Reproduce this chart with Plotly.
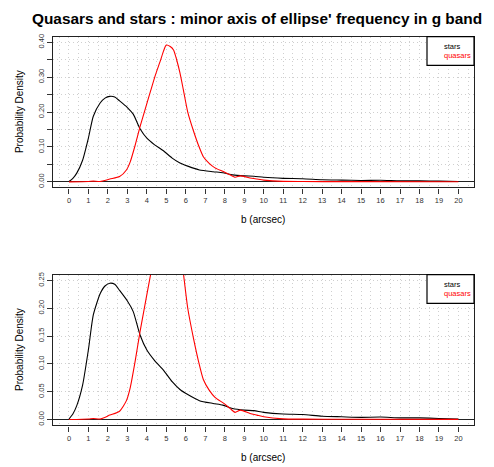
import plotly.graph_objects as go

# ---- data ----
stars_x = [0.0, 0.2, 0.4, 0.7, 1.0, 1.25, 1.6, 1.85, 2.1, 2.35, 2.6, 3.0, 3.3, 3.65, 4.0, 4.4,
           4.85, 5.3, 5.7, 6.1, 6.7, 7.4, 7.9, 8.4, 9.0, 9.5, 10.0, 11.0, 12.0, 13.0, 14.0,
           15.0, 16.0, 17.0, 18.0, 19.0, 20.0]
stars_y = [0.001, 0.010, 0.025, 0.062, 0.126, 0.188, 0.226, 0.240, 0.245, 0.243, 0.232, 0.213,
           0.194, 0.152, 0.125, 0.106, 0.089, 0.068, 0.054, 0.045, 0.034, 0.029, 0.026, 0.020,
           0.017, 0.016, 0.013, 0.010, 0.009, 0.006, 0.005, 0.004, 0.0045, 0.003, 0.003, 0.002,
           0.001]

quasars_x = [0.0, 1.0, 1.25, 1.6, 2.1, 2.6, 2.95, 3.15, 3.4, 3.65, 3.95, 4.2, 4.45, 4.7, 4.85,
             5.0, 5.2, 5.37, 5.53, 5.7, 5.87, 6.1, 6.4, 6.65, 6.9, 7.2, 7.5, 7.95, 8.27, 8.53,
             8.8, 9.3, 9.65, 10.0, 11.0, 12.0, 14.0, 20.0]
quasars_y = [0.0, 0.001, 0.002, 0.001, 0.008, 0.015, 0.034, 0.058, 0.105, 0.158, 0.215, 0.262,
             0.308, 0.348, 0.374, 0.392, 0.388, 0.378, 0.350, 0.312, 0.265, 0.200, 0.145, 0.105,
             0.072, 0.053, 0.040, 0.029, 0.020, 0.013, 0.017, 0.011, 0.008, 0.005, 0.0012,
             0.0008, 0.0005, 0.0003]

x_ticks = list(range(0, 21))
title_text = "Quasars and stars : minor axis of ellipse' frequency in g band"
x_title = "b (arcsec)"
y_title = "Probability Density"
legend_labels = ["stars", "quasars"]
legend_colors = ["black", "red"]

W, H = 494, 467
FONT = "Liberation Sans, Arial, sans-serif"

def px(v):
    return v / W

def py(v):
    return 1 - v / H

fig = go.Figure()

for ax in ("1", "2"):
    xa = "x" if ax == "1" else "x2"
    ya = "y" if ax == "1" else "y2"
    fig.add_trace(go.Scatter(x=stars_x, y=stars_y, mode="lines", line=dict(color="black", width=1.1, shape="spline", smoothing=0.6),
                             xaxis=xa, yaxis=ya, showlegend=False, cliponaxis=True))
    fig.add_trace(go.Scatter(x=quasars_x, y=quasars_y, mode="lines", line=dict(color="red", width=1.1, shape="spline", smoothing=0.6),
                             xaxis=xa, yaxis=ya, showlegend=False, cliponaxis=True))

x_dom = [px(53), px(474)]
top_dom = [py(186), py(34)]
bot_dom = [py(426), py(274)]

grid = dict(showgrid=True, gridcolor="#cfcfcf", gridwidth=1, griddash="1px,3px")
tickfont = dict(family=FONT, size=7.5, color="#333333")

def xaxis_cfg(anchor):
    return dict(domain=x_dom, anchor=anchor, range=[-0.82, 20.8], autorange=False,
                tickmode="array", tickvals=x_ticks, ticktext=[str(t) for t in x_ticks],
                ticks="outside", ticklen=5, tickcolor="#333333", tickwidth=1,
                showline=True, linecolor="#222222", linewidth=1.3, mirror=True,
                zeroline=False, tickfont=tickfont,
                minor=dict(dtick=0.5, tick0=0, ticks="", **grid), **grid)

fig.update_layout(
    xaxis=xaxis_cfg("y"),
    xaxis2=xaxis_cfg("y2"),
    yaxis=dict(domain=top_dom, anchor="x", range=[-0.016, 0.416], autorange=False,
               tick0=0, dtick=0.1, tickformat=".2f", tickangle=-90,
               ticks="outside", ticklen=5, tickcolor="#333333", tickwidth=1,
               showline=True, linecolor="#222222", linewidth=1.3, mirror=True,
               zeroline=True, zerolinecolor="#222222", zerolinewidth=1.4,
               tickfont=tickfont,
               minor=dict(dtick=0.05, tick0=0, ticks="outside", ticklen=5, tickcolor="#333333", **grid),
               **grid),
    yaxis2=dict(domain=bot_dom, anchor="x2", range=[-0.0104, 0.2604], autorange=False,
                tick0=0, dtick=0.05, tickformat=".2f", tickangle=-90,
                ticks="outside", ticklen=5, tickcolor="#333333", tickwidth=1,
                showline=True, linecolor="#222222", linewidth=1.3, mirror=True,
                zeroline=True, zerolinecolor="#222222", zerolinewidth=1.4,
                tickfont=tickfont, **grid),
    width=W, height=H,
    margin=dict(l=0, r=0, t=0, b=0),
    paper_bgcolor="white", plot_bgcolor="white",
    showlegend=False,
)

annotations = [
    dict(text="<b>" + title_text + "</b>", xref="paper", yref="paper", x=px(30), y=py(16),
         xanchor="left", yanchor="middle", showarrow=False,
         font=dict(family=FONT, size=15.4, color="black")),
]
for (ytop, ybot) in [(34, 186), (274, 426)]:
    annotations.append(dict(text=x_title, xref="paper", yref="paper", x=px(263), y=py(ybot + 32),
                            xanchor="center", yanchor="middle", showarrow=False,
                            font=dict(family=FONT, size=10, color="black")))
    annotations.append(dict(text=y_title, xref="paper", yref="paper", x=px(19), y=py((ytop + ybot) / 2),
                            xanchor="center", yanchor="middle", showarrow=False, textangle=-90,
                            font=dict(family=FONT, size=10, color="black")))
    for i, (lab, col) in enumerate(zip(legend_labels, legend_colors)):
        annotations.append(dict(text=lab, xref="paper", yref="paper", x=px(442), y=py(ytop + 10 + i * 9.3),
                                xanchor="left", yanchor="middle", showarrow=False,
                                font=dict(family=FONT, size=7.5, color=col)))
fig.update_layout(annotations=annotations)

shapes = []
for ytop in (34, 274):
    shapes.append(dict(type="rect", xref="paper", yref="paper", x0=px(427), x1=px(474),
                       y0=py(ytop + 29), y1=py(ytop), line=dict(color="black", width=1.2),
                       fillcolor="white", layer="above"))
fig.update_layout(shapes=shapes)

fig.write_html("out.html")
